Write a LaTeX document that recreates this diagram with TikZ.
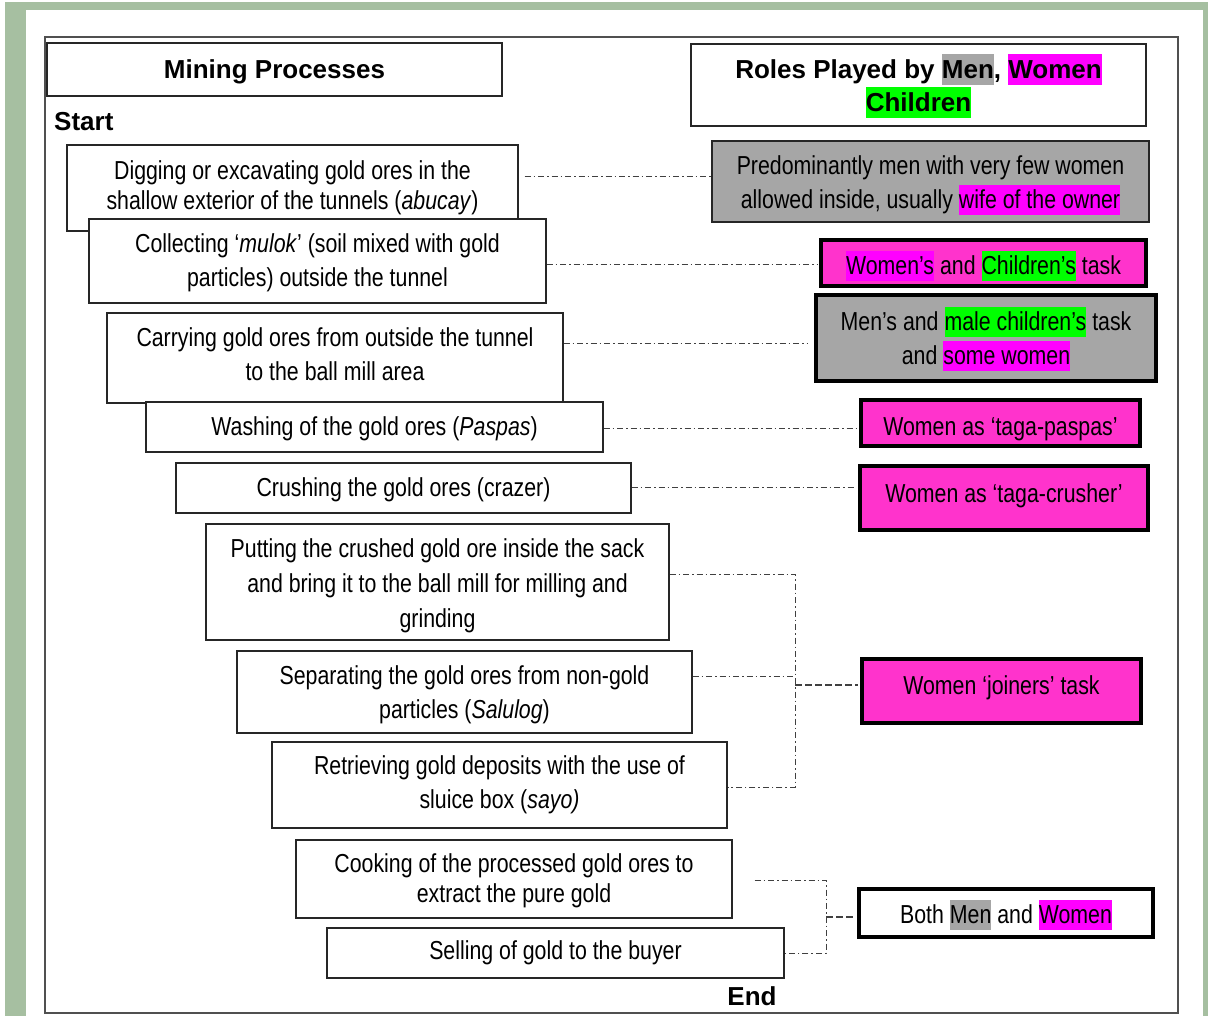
\documentclass[tikz,border=0pt]{standalone}
\usepackage{fontspec}
\setmainfont{Liberation Sans}
\newfontfamily\narrow{Liberation Sans}[FakeStretch=0.82]
\definecolor{bandgreen}{RGB}{166,191,161}
\definecolor{boxgrey}{RGB}{166,166,166}
\definecolor{boxmag}{RGB}{255,51,204}
\definecolor{hmag}{RGB}{255,0,255}
\definecolor{hgreen}{RGB}{0,255,0}
\definecolor{hgrey}{RGB}{166,166,166}
\definecolor{framegrey}{RGB}{80,80,80}
\newcommand\hlite[2]{{\setlength{\fboxsep}{0pt}\colorbox{#1}{\rule[-0.24em]{0pt}{1.16em}#2}}}
% lower (positive) or raise (negative) a line without changing its measured size
\newcommand\dn[2]{\raisebox{-#1}[\height][\depth]{#2}}
\begin{document}
\begin{tikzpicture}[x=1pt,y=-1pt,
  pbox/.style={draw=black!85, line width=1.2pt, fill=white, align=center, inner sep=0pt,
     font=\narrow\fontsize{26}{34}\selectfont},
  hbox/.style={draw=black!85, line width=1.2pt, fill=white, align=center, inner sep=0pt,
     font=\bfseries\fontsize{26}{34}\selectfont},
  rthin/.style={draw=black!85, line width=1.2pt, align=center, inner sep=0pt,
     font=\narrow\fontsize{26}{34}\selectfont},
  rthick/.style={draw=black, line width=4pt, align=center, inner sep=0pt,
     font=\narrow\fontsize{26}{34}\selectfont},
  conn/.style={draw=black!75, line width=1pt, dash pattern=on 6pt off 3pt on 1.5pt off 3pt},
  link/.style={draw=black!75, line width=1.2pt, dash pattern=on 7pt off 3pt},
  lbl/.style={font=\bfseries\fontsize{26}{32}\selectfont, inner sep=0pt}
]
\useasboundingbox (0,0) rectangle (1208,1016);
% background band
\fill[bandgreen] (5,2) rectangle (1208,1016);
\fill[white] (26,10) rectangle (1203,1016);
% outer frame
\draw[framegrey, line width=1.5pt] (45,37) rectangle (1178,1013);

% headers
\node[hbox, minimum width=455, minimum height=53] (mp) at (274.5,69.5) {\dn{2pt}{Mining Processes}};
\node[hbox, minimum width=455, minimum height=82] (roles) at (918.5,85)
  {\dn{1pt}{Roles Played by \hlite{hgrey}{Men}, \hlite{hmag}{Women}}\\[-1pt]\dn{1pt}{\hlite{hgreen}{Children}}};
\node[lbl, anchor=west] (start) at (54,122) {Start};
\node[lbl] (end) at (752,996) {End};

% process boxes
\node[pbox, minimum width=451, minimum height=86] (p1) at (292.5,188)
  {Digging or excavating gold ores in the\\[-4pt] shallow exterior of the tunnels (\textit{abucay})};
\node[pbox, minimum width=457, minimum height=84] (p2) at (317.5,261)
  {\dn{2pt}{Collecting ‘\textit{mulok}’ (soil mixed with gold}\\ \dn{2pt}{particles) outside the tunnel}};
\node[pbox, minimum width=456, minimum height=90] (p3) at (335,358)
  {\dn{-4pt}{Carrying gold ores from outside the tunnel}\\ \dn{-4pt}{to the ball mill area}};
\node[pbox, minimum width=457, minimum height=50] (p4) at (374.5,427)
  {\dn{2pt}{Washing of the gold ores (\textit{Paspas})}};
\node[pbox, minimum width=455, minimum height=50] (p5) at (403.5,488)
  {\dn{2pt}{Crushing the gold ores (crazer)}};
\node[pbox, minimum width=463, minimum height=116] (p6) at (437.5,582)
  {\dn{4pt}{Putting the crushed gold ore inside the sack}\\[1pt] \dn{4pt}{and bring it to the ball mill for milling and}\\[1pt] \dn{4pt}{grinding}};
\node[pbox, minimum width=455, minimum height=82] (p7) at (464.5,692)
  {\dn{3pt}{Separating the gold ores from non-gold}\\ \dn{3pt}{particles (\textit{Salulog})}};
\node[pbox, minimum width=455, minimum height=86] (p8) at (499.5,785)
  {Retrieving gold deposits with the use of\\ sluice box (\textit{sayo)}};
\node[pbox, minimum width=436, minimum height=78] (p9) at (514,879)
  {\dn{2pt}{Cooking of the processed gold ores to}\\[-4pt] \dn{2pt}{extract the pure gold}};
\node[pbox, minimum width=457, minimum height=50] (p10) at (555.5,953)
  {Selling of gold to the buyer};

% role boxes
\node[rthin, fill=boxgrey, minimum width=437, minimum height=81] (r1) at (930.5,181.5)
  {\dn{4pt}{Predominantly men with very few women}\\ \dn{4pt}{allowed inside, usually \hlite{hmag}{wife of the owner}}};
\node[rthick, fill=boxmag, minimum width=325, minimum height=46] (r2) at (983.5,263)
  {\dn{3pt}{\hlite{hmag}{Women’s} and \hlite{hgreen}{Children’s} task}};
\node[rthick, fill=boxgrey, minimum width=340, minimum height=86] (r3) at (986,338)
  {\dn{1pt}{Men’s and \hlite{hgreen}{male children’s} task}\\ \dn{1pt}{and \hlite{hmag}{some women}}};
\node[rthick, fill=boxmag, minimum width=279, minimum height=46] (r4) at (1000.5,423)
  {\dn{6pt}{Women as ‘taga-paspas’}};
\node[rthick, fill=boxmag, minimum width=288, minimum height=64] (r5) at (1004,498)
  {\dn{-2pt}{Women as ‘taga-crusher’}};
\node[rthick, fill=boxmag, minimum width=279, minimum height=64] (r6) at (1001.5,691)
  {\dn{-3pt}{Women ‘joiners’ task}};
\node[rthick, fill=white, minimum width=294, minimum height=48] (r7) at (1006,913)
  {\dn{2pt}{Both \hlite{hgrey}{Men} and \hlite{hmag}{Women}}};

% single connectors
\draw[conn] ([xshift=6pt]p1.east |- 0,177) -- (r1.west |- 0,177);
\draw[conn] (p2.east |- 0,265) -- ([xshift=-2pt]r2.west |- 0,265);
\draw[conn] (p3.east |- 0,344) -- ([xshift=-6pt]r3.west |- 0,344);
\draw[conn] (p4.east |- 0,428) -- ([xshift=-2pt]r4.west |- 0,428);
\draw[conn] (p5.east |- 0,487) -- ([xshift=-2pt]r5.west |- 0,487);

% joiners group
\coordinate (j6t) at (795,574);
\coordinate (j6m) at (795,676);
\coordinate (j6c) at (795,685);
\coordinate (j6b) at (795,787);
\draw[conn] (p6.east |- j6t) -- (j6t) -- (j6b) -- (p8.east |- j6b);
\draw[conn] (p7.east |- j6m) -- (j6m);
\draw[link] (j6c) -- ([xshift=-2pt]r6.west |- j6c);

% both group
\coordinate (j7t) at (826,880);
\coordinate (j7c) at (826,917);
\coordinate (j7b) at (826,953);
\draw[conn] ([xshift=22pt]p9.east |- j7t) -- (j7t) -- (j7b) -- (p10.east |- j7b);
\draw[link] (j7c) -- ([xshift=-2pt]r7.west |- j7c);
\end{tikzpicture}
\end{document}
